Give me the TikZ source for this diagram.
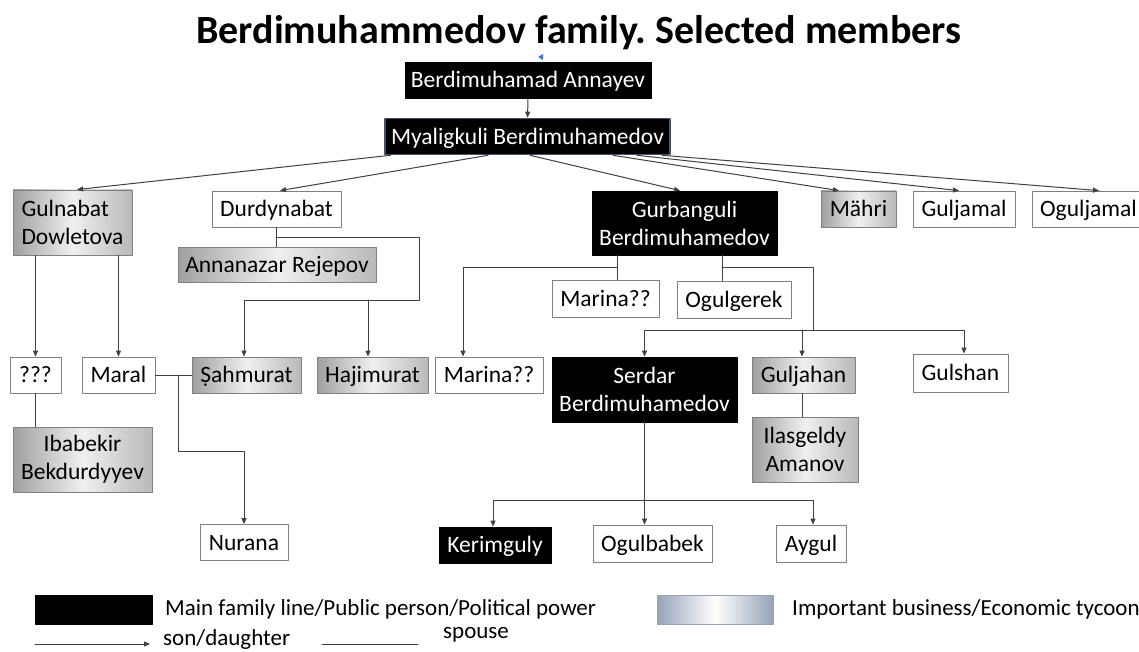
\documentclass[tikz,border=0pt]{standalone}
\usepackage{fontspec}
\setmainfont{Carlito}
\usetikzlibrary{arrows.meta, positioning, calc}
\frenchspacing

\definecolor{linegray}{RGB}{64,64,64}
\definecolor{boxgray}{RGB}{128,128,128}
\definecolor{slate}{RGB}{68,84,106}
\definecolor{legblue}{RGB}{150,162,184}
\definecolor{markblue}{RGB}{68,114,196}

\begin{document}
\begin{tikzpicture}[x=1pt, y=-1pt, line cap=round, line join=round,
    person/.style={draw=boxgray, line width=0.8pt, fill=white, inner sep=0pt,
      minimum height=36pt, text height=20pt, text depth=4.9pt,
      align=center, font=\fontsize{23.5}{28}\selectfont},
    twoline/.style={text height={}, text depth={}, minimum height=65pt},
    power/.style={person, draw=black, fill=black, text=white},
    tycoon/.style={person, left color=gray!75, right color=gray!55, middle color=gray!12},
    kid/.style={-{Triangle[length=6pt, width=5pt]}, line width=1pt, draw=linegray},
    spouse/.style={line width=1pt, draw=linegray},
    lbl/.style={font=\fontsize{23}{28}\selectfont, anchor=west, inner sep=0pt}]
  \useasboundingbox (0,0) rectangle (1139,652);
  % --- title -----------------------------------------------------------
  \node[font=\fontsize{40}{48}\selectfont\bfseries] (title) at (579,33)
      {Berdimuhammedov family. Selected members};
  \fill[markblue] (538,57) -- (543,54) -- (543,60) -- cycle;
  % --- first two generations -------------------------------------------
  \node[power, minimum width=246pt] (annayev) at (528,80) {Berdimuhamad Annayev};
  \node[power, draw=slate, line width=1.6pt, minimum width=285pt]
      (myaligkuli) at (527.5,136.5) {Myaligkuli Berdimuhamedov};
  \draw[kid] (annayev.south) -- (myaligkuli.north);
  % children of Myaligkuli
  \node[tycoon, twoline, align=left, minimum width=119pt]
      (gulnabat) at (72.5,222.5) {Gulnabat\\Dowletova};
  \node[person, minimum width=129pt] (durdynabat) at (276.5,209) {Durdynabat};
  \node[power, twoline, minimum width=185pt, minimum height=64pt]
      (gurbanguli) at (684.5,223) {Gurbanguli\\Berdimuhamedov};
  \node[tycoon, minimum width=75pt] (mahri) at (858.5,209) {Mähri};
  \node[person, minimum width=102pt] (guljamal) at (964,209) {Guljamal};
  \node[person, minimum width=113pt] (oguljamal) at (1088.5,209) {Oguljamal};
  \draw[kid] ([xshift=-137pt]myaligkuli.south) -- ([xshift=4.5pt]gulnabat.north);
  \draw[kid] ([xshift=-39.5pt]myaligkuli.south) -- ([xshift=3.5pt]durdynabat.north);
  \draw[kid] ([xshift=2.5pt]myaligkuli.south) -- ([xshift=-4.5pt]gurbanguli.north);
  \draw[kid] ([xshift=85.5pt]myaligkuli.south) -- ([xshift=-19.5pt]mahri.north);
  \draw[kid] ([xshift=109.5pt]myaligkuli.south) -- ([xshift=-5pt]guljamal.north);
  \draw[kid] ([xshift=134.5pt]myaligkuli.south) -- ([xshift=10.5pt]oguljamal.north);
  % --- Durdynabat's line ------------------------------------------------
  \node[tycoon, minimum width=198pt, minimum height=35pt]
      (annanazar) at (277,264.5) {Annanazar Rejepov};
  \node[tycoon, minimum width=109pt] (sahmurat) at (246.5,375) {Ṣahmurat};
  \node[tycoon, minimum width=111pt] (hajimurat) at (372.5,375) {Hajimurat};
  \draw[spouse] (durdynabat.south) -- (annanazar.north -| durdynabat.south);
  \coordinate (dj) at (276.5,237);
  \coordinate (dbend) at (419,300);
  \draw[kid] (dj) -| (dbend) -| ([xshift=-2.5pt]sahmurat.north);
  \draw[kid] ([xshift=-4.5pt]hajimurat.north |- dbend) -- ([xshift=-4.5pt]hajimurat.north);
  % --- Gulnabat's line --------------------------------------------------
  \node[person, minimum width=51pt] (unknown) at (35.5,375) {???};
  \node[person, minimum width=73pt] (maral) at (118.5,375) {Maral};
  \node[tycoon, twoline, minimum width=139pt]
      (ibabekir) at (82.5,459.5) {Ibabekir\\Bekdurdyyev};
  \node[person, minimum width=88pt] (nurana) at (244,542.5) {Nurana};
  \draw[kid] (gulnabat.south -| unknown.north) -- (unknown.north);
  \draw[kid] (gulnabat.south -| maral.north) -- (maral.north);
  \draw[spouse] (unknown.south) -- (unknown.south |- ibabekir.north);
  \draw[spouse] (maral.east) -- (sahmurat.west);
  \coordinate (ms) at (178,375);
  \coordinate (nbend) at (178,451);
  \draw[kid] (ms) -- (nbend) -| (nurana.north);
  % --- Gurbanguli's line ------------------------------------------------
  \node[person, minimum width=107pt, minimum height=37pt]
      (marinaA) at (605.5,298.5) {Marina??};
  \node[person, minimum width=114pt, minimum height=37pt]
      (ogulgerek) at (734,299.5) {Ogulgerek};
  \node[person, minimum width=108pt] (marinaB) at (489,375) {Marina??};
  \node[power, twoline, minimum width=185pt]
      (serdar) at (644.5,389.5) {Serdar\\Berdimuhamedov};
  \node[tycoon, minimum width=103pt] (guljahan) at (803.5,375) {Guljahan};
  \node[person, minimum width=95pt, minimum height=38pt] (gulshan) at (960.5,373) {Gulshan};
  \node[tycoon, twoline, minimum width=106pt]
      (ilasgeldy) at (805,449.5) {Ilasgeldy\\Amanov};
  \coordinate (gjL) at (617,267);
  \coordinate (gjR) at (722,267);
  \coordinate (gbus) at (813,330);
  \draw[spouse] (gurbanguli.south -| gjL) -- (marinaA.north -| gjL);
  \draw[kid] (gjL) -| ([xshift=-26pt]marinaB.north);
  \draw[spouse] (gurbanguli.south -| gjR) -- (ogulgerek.north -| gjR);
  \draw[kid] (gjR) -| (gbus) -| (serdar.north);
  \draw[kid] (gbus) -| ([xshift=3.5pt]gulshan.north);
  \draw[kid] ([xshift=-1.5pt]guljahan.north |- gbus) -- ([xshift=-1.5pt]guljahan.north);
  \draw[spouse] ([xshift=-1.5pt]guljahan.south) -- ([xshift=-1.5pt]guljahan.south |- ilasgeldy.north);
  % --- Serdar's children ------------------------------------------------
  \node[power, minimum width=112pt] (kerimguly) at (495,545) {Kerimguly};
  \node[person, minimum width=119pt, minimum height=37pt] (ogulbabek) at (652.5,543.5) {Ogulbabek};
  \node[person, minimum width=70pt, minimum height=37pt] (aygul) at (811,543.5) {Aygul};
  \coordinate (sbus) at (645,500);
  \draw[kid] (serdar.south) -- (serdar.south |- ogulbabek.north);
  \draw[kid] (sbus) -| ([xshift=-2pt]kerimguly.north);
  \draw[kid] (sbus) -| ([xshift=2pt]aygul.north);
  % --- legend -----------------------------------------------------------
  \node[power, minimum width=117pt, minimum height=29pt] (legpower) at (93.5,609.5) {};
  \node[lbl] (legpowertxt) at (165,609) {Main family line/Public person/Political power};
  \node[person, draw=legblue, left color=legblue, right color=legblue, middle color=white,
      minimum width=116pt, minimum height=29pt] (legbiz) at (715,609.5) {};
  \node[lbl] (legbiztxt) at (792,609) {Important business/Economic tycoon};
  \coordinate (legkidA) at (35,644);
  \coordinate (legkidB) at (150,644);
  \draw[kid] (legkidA) -- (legkidB);
  \node[lbl] (legkidtxt) at (163,639) {son/daughter};
  \coordinate (legspA) at (322,644);
  \coordinate (legspB) at (418,644);
  \draw[spouse] (legspA) -- (legspB);
  \node[lbl] (legsptxt) at (443,635) {spouse};
\end{tikzpicture}
\end{document}
